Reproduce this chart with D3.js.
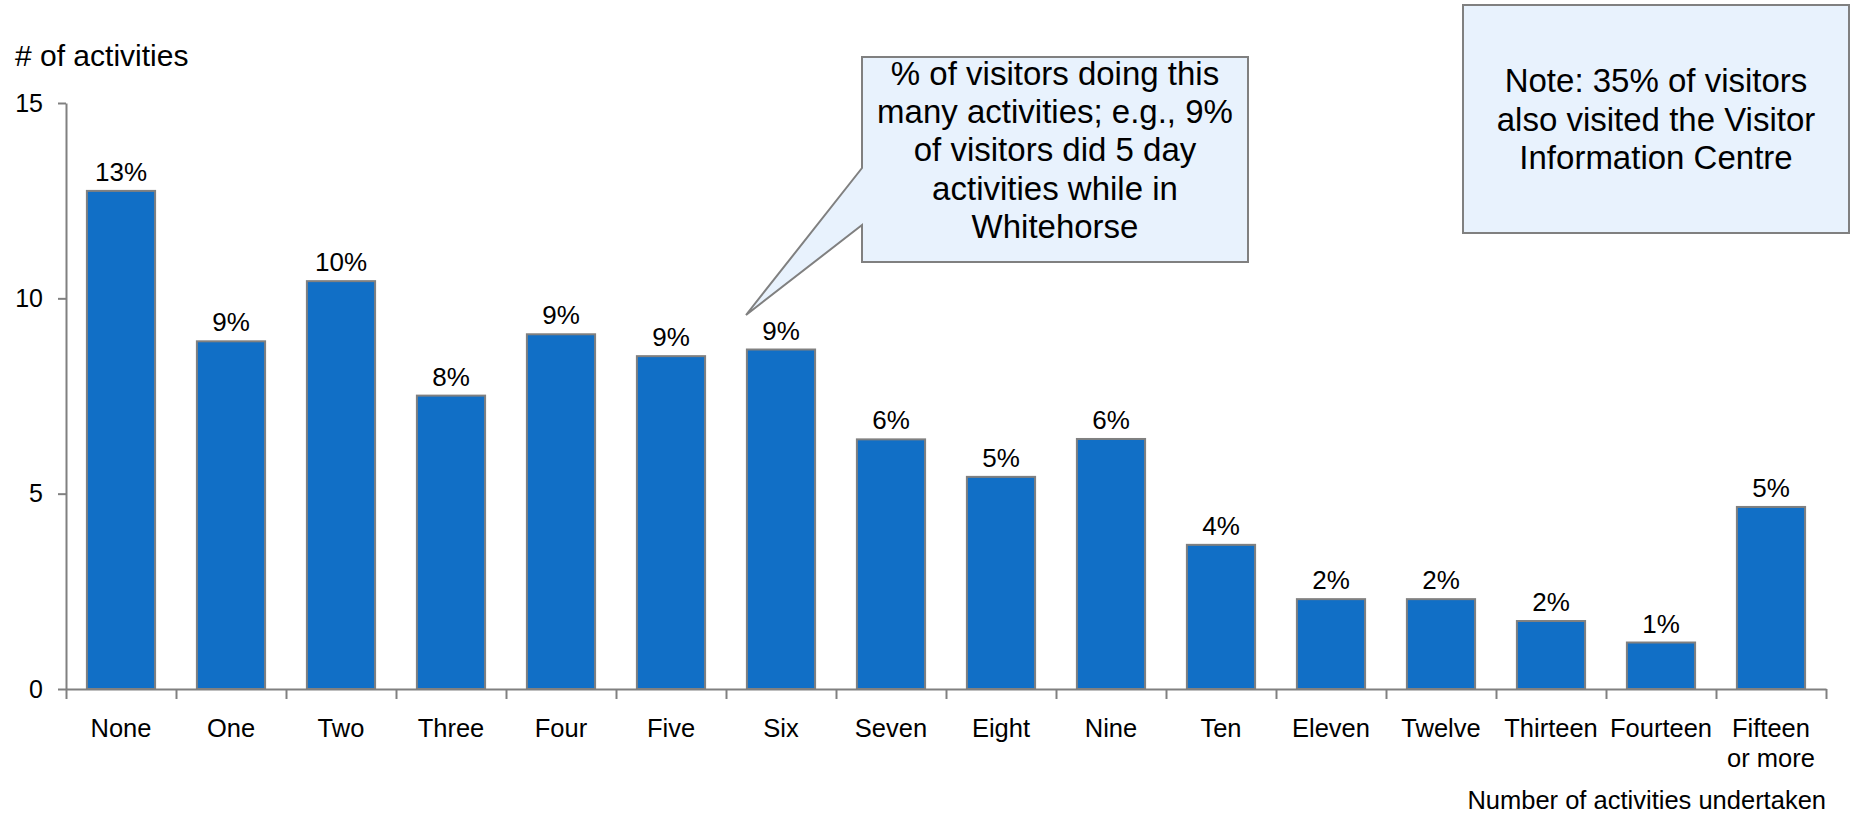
<!DOCTYPE html>
<html>
<head>
<meta charset="utf-8">
<script src="https://cdn.jsdelivr.net/npm/d3@7/dist/d3.min.js"></script>
<style>
  html, body { margin: 0; padding: 0; background: #fff; }
  svg { display: block; font-family: "Liberation Sans", Arial, sans-serif; }
</style>
</head>
<body>
<svg id="chart" width="1852" height="818"></svg>
<script>
// Number of activities undertaken by visitors
const categories = ["None", "One", "Two", "Three", "Four", "Five", "Six", "Seven",
  "Eight", "Nine", "Ten", "Eleven", "Twelve", "Thirteen", "Fourteen", "Fifteen or more"];
const shares = [12.75, 8.9, 10.44, 7.51, 9.08, 8.52, 8.69, 6.39, 5.43, 6.4, 3.69, 2.3, 2.3, 1.74, 1.19, 4.66];
const yTicks = [0, 5, 10, 15];
const yTitle = "# of activities";
const xTitle = "Number of activities undertaken";
const calloutLines = ["% of visitors doing this", "many activities; e.g., 9%",
  "of visitors did 5 day", "activities while in", "Whitehorse"];
const noteLines = ["Note: 35% of visitors", "also visited the Visitor", "Information Centre"];

const svg = d3.select("#chart");
const plotLeft = 66, plotRight = 1826, plotTop = 103, plotBottom = 689;
const axisColor = "#808080";
const boxFill = "#e8f2fd";

const x = d3.scaleBand().domain(categories).range([plotLeft, plotRight])
  .paddingInner(0.38).paddingOuter(0.19);
const xEdges = d3.scaleLinear().domain([0, categories.length]).range([plotLeft, plotRight]);
const y = d3.scaleLinear().domain([0, 15]).range([plotBottom, plotTop]);

// Bars
svg.append("g").selectAll("rect").data(shares).join("rect")
  .attr("x", (d, i) => x(categories[i]))
  .attr("y", d => y(d))
  .attr("width", x.bandwidth())
  .attr("height", d => y(0) - y(d))
  .attr("fill", "#116fc6")
  .attr("stroke", axisColor)
  .attr("stroke-width", 2);

// Value labels
svg.append("g").selectAll("text").data(shares).join("text")
  .attr("x", (d, i) => x(categories[i]) + x.bandwidth() / 2)
  .attr("y", d => y(d) - 10)
  .attr("text-anchor", "middle")
  .attr("font-size", 26)
  .attr("fill", "#000")
  .text(d => Math.round(d) + "%");

// Y axis
const yAxis = svg.append("g").attr("transform", `translate(${plotLeft},0)`)
  .call(d3.axisLeft(y).tickValues(yTicks).tickSize(8).tickSizeOuter(0).tickPadding(15));
yAxis.select(".domain").attr("stroke", axisColor).attr("stroke-width", 2);
yAxis.selectAll(".tick line").attr("stroke", axisColor).attr("stroke-width", 2);
yAxis.selectAll(".tick text").attr("font-size", 25).attr("fill", "#000")
  .attr("font-family", "Liberation Sans, Arial, sans-serif");

// X axis: boundary ticks between categories
const xAxis = svg.append("g").attr("transform", `translate(0,${plotBottom})`)
  .call(d3.axisBottom(xEdges).tickValues(d3.range(categories.length + 1))
    .tickSize(10).tickSizeOuter(0).tickFormat(""));
xAxis.select(".domain").attr("stroke", axisColor).attr("stroke-width", 2);
xAxis.selectAll(".tick line").attr("stroke", axisColor).attr("stroke-width", 2);

// X category labels (long ones wrap onto a second line)
const catLabels = svg.append("g").selectAll("text").data(categories).join("text")
  .attr("x", d => x(d) + x.bandwidth() / 2)
  .attr("y", 737)
  .attr("text-anchor", "middle")
  .attr("font-size", 25.5)
  .attr("fill", "#000");
catLabels.each(function(d) {
  const parts = d.includes(" or ") ? [d.split(" or ")[0], "or " + d.split(" or ")[1]] : [d];
  d3.select(this).selectAll("tspan").data(parts).join("tspan")
    .attr("x", x(d) + x.bandwidth() / 2)
    .attr("dy", (p, i) => i === 0 ? 0 : 30)
    .text(p => p);
});

// Axis titles
svg.append("text").attr("x", 15).attr("y", 66).attr("font-size", 30).attr("fill", "#000").text(yTitle);
svg.append("text").attr("x", 1826).attr("y", 809).attr("text-anchor", "end")
  .attr("font-size", 25.5).attr("fill", "#000").text(xTitle);

// Callout with pointer
const cx0 = 862, cx1 = 1248, cy0 = 57, cy1 = 262;
const callout = d3.path();
callout.moveTo(cx0, cy0);
callout.lineTo(cx1, cy0);
callout.lineTo(cx1, cy1);
callout.lineTo(cx0, cy1);
callout.lineTo(cx0, 225);
callout.lineTo(746, 315);
callout.lineTo(cx0, 168);
callout.closePath();
svg.append("path").attr("d", callout.toString())
  .attr("fill", boxFill).attr("stroke", axisColor).attr("stroke-width", 2);
svg.append("g").selectAll("text").data(calloutLines).join("text")
  .attr("x", (cx0 + cx1) / 2)
  .attr("y", (d, i) => 85 + i * 38.2)
  .attr("text-anchor", "middle")
  .attr("font-size", 33)
  .attr("fill", "#000")
  .text(d => d);

// Note box
svg.append("rect").attr("x", 1463).attr("y", 5).attr("width", 386).attr("height", 228)
  .attr("fill", boxFill).attr("stroke", axisColor).attr("stroke-width", 2);
svg.append("g").selectAll("text").data(noteLines).join("text")
  .attr("x", 1656)
  .attr("y", (d, i) => 92 + i * 38.7)
  .attr("text-anchor", "middle")
  .attr("font-size", 33)
  .attr("fill", "#000")
  .text(d => d);
</script>
</body>
</html>
